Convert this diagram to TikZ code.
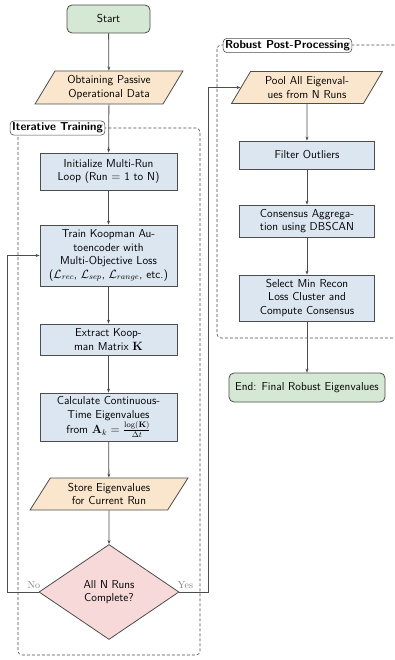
\documentclass[tikz,border=0pt]{standalone}
\usetikzlibrary{shapes.geometric,arrows.meta}
\definecolor{lineg}{HTML}{4D4D4D}
\definecolor{termfill}{HTML}{D5E8D4}
\definecolor{iofill}{HTML}{FAE6CD}
\definecolor{procfill}{HTML}{DCE6F1}
\definecolor{decfill}{HTML}{F8D9DA}
\tikzset{
  base/.style={draw=lineg, line width=0.8pt, font=\sffamily\fontsize{11.5}{13.5}\selectfont, align=center, inner sep=2pt},
  term/.style={base, rectangle, rounded corners=5pt, fill=termfill},
  proc/.style={base, rectangle, fill=procfill, minimum width=137pt},
  io/.style={base, trapezium, trapezium left angle=60, trapezium right angle=120, trapezium stretches=true, fill=iofill},
  dec/.style={base, diamond, fill=decfill, minimum width=140pt, minimum height=95pt, inner sep=0pt},
  flow/.style={draw=lineg, line width=0.8pt, -{Stealth[length=4pt,width=3pt]}},
  group/.style={draw=lineg, dash pattern=on 3pt off 2pt, rounded corners=4pt, line width=0.6pt},
  grouplabel/.style={draw=lineg, line width=0.6pt, fill=white, rounded corners=4pt, font=\sffamily\bfseries\fontsize{11.5}{13}\selectfont, inner sep=2pt},
  branch/.style={font=\rmfamily\fontsize{10}{12}\selectfont, text=gray}
}
\begin{document}
\begin{tikzpicture}[x=1pt,y=-1pt]
\useasboundingbox (0,0) rectangle (394,660);
\clip (0,0) rectangle (394,660);
\fill[white] (0,0) rectangle (394,660);

% group frames
\draw[group] (18,128) rectangle (200,655);
\draw[group] (217,45) rectangle (410,338);

% left column: iterative training
\node[term, minimum width=83pt, minimum height=28pt] (start) at (108.5,19) {Start};
\node[io, minimum width=148pt, minimum height=33pt] (obtain) at (109,87.5) {Obtaining Passive\\Operational Data};
\node[proc, minimum height=37pt] (init) at (108.5,171.5) {Initialize Multi-Run\\Loop (Run $=$ 1 to N)};
\node[proc, minimum height=61pt] (train) at (108.5,255.5) {Train Koopman Au-\\toencoder with\\Multi-Objective Loss\\($\mathcal{L}_{rec}$, $\mathcal{L}_{sep}$, $\mathcal{L}_{range}$, etc.)};
\node[proc, minimum height=31pt] (extract) at (108.5,339.5) {Extract Koop-\\man Matrix $\mathbf{K}$};
\node[proc, minimum height=48pt] (calc) at (108.5,417) {Calculate Continuous-\\Time Eigenvalues\\from $\mathbf{A}_k = \frac{\log(\mathbf{K})}{\Delta t}$};
\node[io, minimum width=158pt, minimum height=32pt] (store) at (109,494) {Store Eigenvalues\\for Current Run};
\node[dec] (dec) at (109,592) {All N Runs\\Complete?};

% right column: post-processing
\node[io, minimum width=151pt, minimum height=32pt] (pool) at (307,87.5) {Pool All Eigenval-\\ues from N Runs};
\node[proc, minimum width=135pt, minimum height=28pt] (filter) at (307,155) {Filter Outliers};
\node[proc, minimum width=135pt, minimum height=32pt] (cons) at (307,221) {Consensus Aggrega-\\tion using DBSCAN};
\node[proc, minimum width=135pt, minimum height=46pt] (select) at (307,298) {Select Min Recon\\Loss Cluster and\\Compute Consensus};
\node[term, minimum width=156pt, minimum height=29pt] (end) at (307,387.5) {End: Final Robust Eigenvalues};

% group labels
\node[grouplabel] (lblL) at (57.5,128) {Iterative Training};
\node[grouplabel] (lblR) at (287.5,45.5) {Robust Post-Processing};

% connectors
\draw[flow] (start) -- (obtain);
\draw[flow] (obtain) -- (init);
\draw[flow] (init) -- (train);
\draw[flow] (train) -- (extract);
\draw[flow] (extract) -- (calc);
\draw[flow] (calc) -- (store);
\draw[flow] (store) -- (dec);
\draw[flow] (dec.west) -- ++(-31,0) |- (train.west);
\draw[flow] (dec.east) -- ++(29,0) |- (pool.west);
\draw[flow] (pool) -- (filter);
\draw[flow] (filter) -- (cons);
\draw[flow] (cons) -- (select);
\draw[flow] (select) -- (end);

% branch labels
\node[branch, anchor=south east] (no) at ([xshift=5pt]dec.west) {No};
\node[branch, anchor=south west] (yes) at ([xshift=-5pt]dec.east) {Yes};
\end{tikzpicture}
\end{document}
